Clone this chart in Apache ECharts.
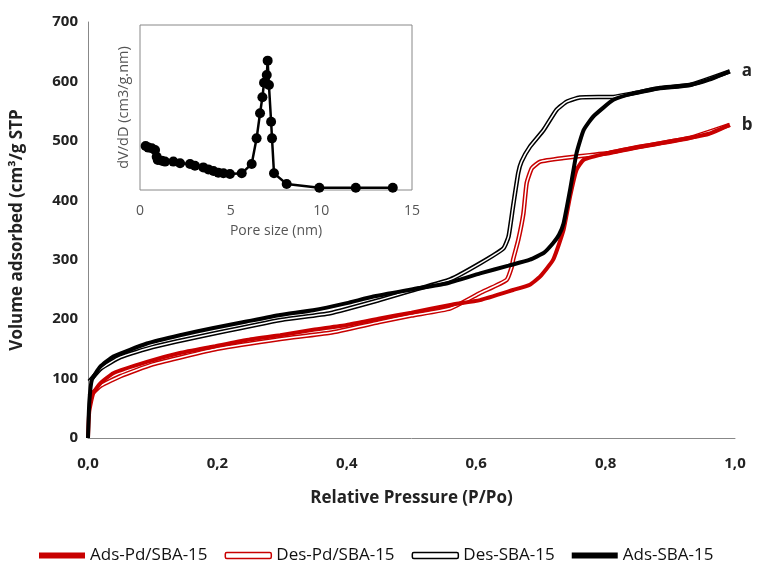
<!DOCTYPE html>
<html>
<head>
<meta charset="utf-8">
<script src="https://cdn.jsdelivr.net/npm/echarts@6/dist/echarts.min.js"></script>
<style>
  html, body { margin: 0; padding: 0; background: #fff; }
  #chart { width: 763px; height: 565px; }
</style>
</head>
<body>
<div id="chart"></div>
<script>
// isotherms: relative pressure (P/Po) vs volume adsorbed (cm3/g STP)
var adsSbaP = [0, 0.002, 0.006, 0.019, 0.039, 0.091, 0.142, 0.194, 0.245, 0.297, 0.348, 0.40, 0.441, 0.50, 0.554, 0.606, 0.65, 0.683, 0.705, 0.719, 0.728, 0.735, 0.745, 0.755, 0.766, 0.781, 0.812, 0.843, 0.884, 0.93, 0.96, 0.992];
var adsSbaV = [0, 60, 98, 120, 137, 159, 173, 185, 196, 207, 215, 227, 238, 250, 260, 277, 290, 300, 312, 328, 342, 361, 417, 479, 518, 541, 569, 580, 589, 594, 603, 617];

var desSbaP = [0.002, 0.02, 0.05, 0.1, 0.2, 0.3, 0.374, 0.45, 0.5, 0.56, 0.606, 0.642, 0.650, 0.657, 0.665, 0.670, 0.683, 0.704, 0.724, 0.740, 0.760, 0.812, 0.843, 0.884, 0.93, 0.992];
var desSbaV = [95, 117, 136, 153, 177, 199, 210, 232, 248, 267, 294, 319, 339, 390, 446, 465, 490, 518, 552, 566, 573, 574, 580, 589, 594, 617];

var adsPdP = [0, 0.002, 0.008, 0.019, 0.039, 0.091, 0.142, 0.194, 0.245, 0.297, 0.348, 0.40, 0.451, 0.50, 0.56, 0.606, 0.657, 0.683, 0.699, 0.719, 0.735, 0.745, 0.755, 0.766, 0.802, 0.853, 0.884, 0.93, 0.96, 0.992];
var adsPdV = [0, 45, 75, 92, 109, 128, 143, 154, 165, 173, 182, 190, 201, 211, 224, 232, 249, 258, 272, 300, 350, 406, 451, 468, 479, 490, 496, 505, 512, 527];

var desPdP = [0.002, 0.02, 0.05, 0.1, 0.2, 0.3, 0.374, 0.45, 0.5, 0.56, 0.606, 0.647, 0.655, 0.657, 0.665, 0.673, 0.678, 0.686, 0.699, 0.735, 0.776, 0.802, 0.853, 0.93, 0.992];
var desPdV = [70, 88, 104, 124, 150, 167, 177, 195, 206, 218, 244, 266, 288, 300, 333, 378, 429, 454, 465, 471, 476, 479, 490, 505, 527];

// inset: pore size distribution (arbitrary units)
var poreSize = [0.31, 0.46, 0.65, 0.83, 0.92, 0.98, 1.2, 1.38, 1.84, 2.21, 2.76, 3.03, 3.49, 3.77, 4.05, 4.32, 4.6, 4.96, 5.61, 6.16, 6.43, 6.62, 6.75, 6.84, 6.99, 7.04, 7.11, 7.23, 7.28, 7.39, 8.09, 9.89, 11.9, 13.94];
var poreDv = [0.267, 0.257, 0.253, 0.242, 0.202, 0.182, 0.178, 0.172, 0.172, 0.162, 0.158, 0.147, 0.137, 0.125, 0.115, 0.105, 0.101, 0.097, 0.101, 0.158, 0.313, 0.465, 0.562, 0.650, 0.697, 0.784, 0.636, 0.414, 0.313, 0.101, 0.036, 0.014, 0.014, 0.014];

function pairs(xs, ys) {
  return xs.map(function (x, i) { return [x, ys[i]]; });
}

var red = "#c80000";
var font = "Open Sans";
var smoothness = 0.15;

var chart = echarts.init(document.getElementById("chart"));

function adsLine(name, color, xs, ys, tag) {
  return {
    name: name, type: "line", xAxisIndex: 0, yAxisIndex: 0,
    data: pairs(xs, ys), showSymbol: false, smooth: smoothness,
    lineStyle: { color: color, width: 4 }, itemStyle: { color: color },
    endLabel: {
      show: true, formatter: tag, distance: 12,
      fontFamily: font, fontWeight: "bold", fontSize: 17, color: "#222"
    },
    z: 3
  };
}
function desLine(name, color, xs, ys) {
  return [{
    name: name, type: "line", xAxisIndex: 0, yAxisIndex: 0,
    data: pairs(xs, ys), showSymbol: false, smooth: smoothness,
    lineStyle: { color: color, width: 4.5 }, itemStyle: { color: color }, z: 2
  }, {
    name: name + "_inner", type: "line", xAxisIndex: 0, yAxisIndex: 0,
    data: pairs(xs, ys), showSymbol: false, smooth: smoothness,
    lineStyle: { color: "#fff", width: 1.5 }, z: 2
  }];
}

var option = {
  animation: false,
  grid: [
    { left: 88, top: 22, width: 647, height: 416 },
    { left: 140, top: 25, width: 272, height: 165, show: true, backgroundColor: "#fff", borderColor: "#888", borderWidth: 1, z: 10 }
  ],
  legend: {
    left: 34, top: 542, itemWidth: 46, itemHeight: 6, itemGap: 17,
    textStyle: { fontFamily: font, fontSize: 17, color: "#111" },
    data: [
      { name: "Ads-Pd/SBA-15", icon: "rect", itemStyle: { color: red, borderWidth: 0 } },
      { name: "Des-Pd/SBA-15", icon: "roundRect", itemStyle: { color: "#fff", borderColor: red, borderWidth: 1.5 } },
      { name: "Des-SBA-15", icon: "roundRect", itemStyle: { color: "#fff", borderColor: "#000", borderWidth: 1.5 } },
      { name: "Ads-SBA-15", icon: "rect", itemStyle: { color: "#000", borderWidth: 0 } }
    ]
  },
  xAxis: [
    {
      gridIndex: 0, type: "value", min: 0, max: 1, interval: 0.2,
      name: "Relative Pressure (P/Po)", nameLocation: "middle", nameGap: 52,
      nameTextStyle: { fontFamily: font, fontWeight: "bold", fontSize: 17, color: "#222" },
      axisLine: { show: true, lineStyle: { color: "#888", width: 1 } },
      axisTick: { show: false }, splitLine: { show: false },
      axisLabel: {
        margin: 18, fontFamily: font, fontWeight: "bold", fontSize: 15, color: "#222",
        formatter: function (v) { return v.toFixed(1).replace(".", ","); }
      }
    },
    {
      gridIndex: 1, type: "value", min: 0, max: 15, interval: 5,
      name: "Pore size (nm)", nameLocation: "middle", nameGap: 34,
      nameTextStyle: { fontFamily: font, fontSize: 14, color: "#555" },
      axisLine: { show: false }, axisTick: { show: false }, splitLine: { show: false },
      axisLabel: { margin: 14, fontFamily: font, fontSize: 14, color: "#555" },
      z: 11
    }
  ],
  yAxis: [
    {
      gridIndex: 0, type: "value", min: 0, max: 700, interval: 100,
      name: "Volume adsorbed (cm³/g STP", nameLocation: "middle", nameGap: 62,
      nameTextStyle: { fontFamily: font, fontWeight: "bold", fontSize: 17, color: "#222" },
      axisLine: { show: true, lineStyle: { color: "#888", width: 1 } },
      axisTick: { show: false }, splitLine: { show: false },
      axisLabel: { margin: 10, fontFamily: font, fontWeight: "bold", fontSize: 15, color: "#222" }
    },
    {
      gridIndex: 1, type: "value", min: 0, max: 1,
      name: "dV/dD (cm3/g.nm)", nameLocation: "middle", nameGap: 9,
      nameTextStyle: { fontFamily: font, fontSize: 14.5, color: "#555" },
      axisLine: { show: false }, axisTick: { show: false }, splitLine: { show: false },
      axisLabel: { show: false }, z: 11
    }
  ],
  series: [
    adsLine("Ads-Pd/SBA-15", red, adsPdP, adsPdV, "b")
  ].concat(
    desLine("Des-Pd/SBA-15", red, desPdP, desPdV),
    desLine("Des-SBA-15", "#000", desSbaP, desSbaV),
    [adsLine("Ads-SBA-15", "#000", adsSbaP, adsSbaV, "a")],
    [{
      name: "pore", type: "line", xAxisIndex: 1, yAxisIndex: 1,
      data: pairs(poreSize, poreDv), symbol: "circle", symbolSize: 10,
      lineStyle: { color: "#000", width: 2.5 }, itemStyle: { color: "#000" }, z: 12
    }]
  )
};

option && chart.setOption(option);
</script>
</body>
</html>
